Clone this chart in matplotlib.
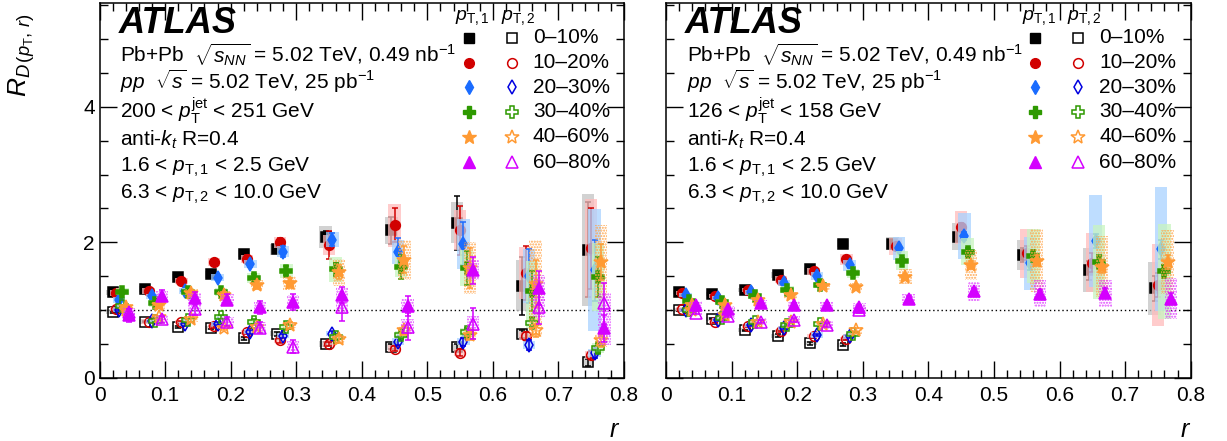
import numpy as np
import matplotlib
matplotlib.use("Agg")
import matplotlib.pyplot as plt

plt.rcParams['font.family'] = ['Liberation Sans', 'DejaVu Sans']
plt.rcParams['mathtext.fontset'] = 'custom'
plt.rcParams['mathtext.rm'] = 'Liberation Sans'
plt.rcParams['mathtext.it'] = 'Liberation Sans:italic'
plt.rcParams['mathtext.bf'] = 'Liberation Sans:bold'
plt.rcParams['mathtext.sf'] = 'Liberation Sans'
plt.rcParams['hatch.linewidth'] = 1.0

# ---------------- data ----------------
r_centers = [0.025, 0.075, 0.125, 0.175, 0.225, 0.275, 0.35, 0.45, 0.55, 0.65, 0.75]
centralities = ['0\u201310%', '10\u201320%', '20\u201330%', '30\u201340%', '40\u201360%', '60\u201380%']

# Left panel: 200 < pT jet < 251 GeV
left_pt1 = [
    [1.26, 1.31, 1.49, 1.53, 1.83, 1.90, 2.08, 2.18, 2.29, 1.36, 1.89],
    [1.25, 1.28, 1.43, 1.71, 1.76, 2.00, 1.96, 2.25, 2.18, 1.55, 1.91],
    [1.15, 1.20, 1.28, 1.48, 1.68, 1.86, 2.04, 1.86, 1.98, 1.50, 1.59],
    [1.27, 1.10, 1.27, 1.26, 1.47, 1.58, 1.60, 1.64, 1.62, 1.28, 1.49],
    [1.04, 1.07, 1.25, 1.22, 1.37, 1.40, 1.56, 1.74, 1.62, 1.39, 1.71],
    [0.92, 1.21, 1.18, 1.15, 1.04, 1.12, 1.22, 1.06, 1.59, 1.32, 0.73],
]
left_pt1_stat = [
    [0.02, 0.02, 0.02, 0.03, 0.04, 0.06, 0.08, 0.20, 0.40, 0.43, 0.70],
    [0.02, 0.02, 0.03, 0.04, 0.05, 0.07, 0.20, 0.25, 0.36, 0.40, 0.60],
    [0.02, 0.02, 0.03, 0.03, 0.05, 0.08, 0.10, 0.20, 0.32, 0.40, 0.45],
    [0.03, 0.03, 0.03, 0.04, 0.06, 0.07, 0.10, 0.18, 0.25, 0.30, 0.30],
    [0.03, 0.03, 0.04, 0.05, 0.06, 0.08, 0.10, 0.20, 0.30, 0.35, 0.27],
    [0.10, 0.08, 0.08, 0.08, 0.10, 0.12, 0.12, 0.15, 0.20, 0.25, 0.20],
]
left_pt1_sys = [
    [0.04, 0.04, 0.04, 0.05, 0.05, 0.08, 0.16, 0.20, 0.30, 0.38, 0.83],
    [0.04, 0.04, 0.05, 0.06, 0.06, 0.08, 0.15, 0.32, 0.30, 0.38, 0.73],
    [0.04, 0.04, 0.05, 0.05, 0.06, 0.08, 0.11, 0.18, 0.37, 0.40, 0.90],
    [0.05, 0.05, 0.05, 0.06, 0.07, 0.10, 0.18, 0.15, 0.27, 0.44, 0.50],
    [0.05, 0.05, 0.06, 0.06, 0.08, 0.10, 0.20, 0.30, 0.38, 0.64, 0.55],
    [0.07, 0.07, 0.07, 0.08, 0.08, 0.10, 0.12, 0.10, 0.15, 0.20, 0.25],
]
left_pt2 = [
    [0.97, 0.83, 0.75, 0.74, 0.58, 0.65, 0.50, 0.46, 0.45, 0.65, 0.23],
    [1.01, 0.83, 0.82, 0.76, 0.67, 0.55, 0.50, 0.43, 0.37, 0.61, 0.34],
    [1.00, 0.84, 0.79, 0.80, 0.68, 0.62, 0.65, 0.53, 0.53, 0.48, 0.36],
    [1.06, 0.84, 0.85, 0.89, 0.83, 0.75, 0.60, 0.63, 0.67, 0.81, 0.44],
    [1.00, 0.89, 0.86, 0.74, 0.75, 0.78, 0.57, 0.70, 0.63, 0.70, 0.55],
    [0.97, 0.86, 1.01, 0.83, 0.74, 0.46, 1.04, 0.75, 0.80, 1.04, 1.10],
]
left_pt2_stat = [
    [0.01, 0.01, 0.02, 0.02, 0.02, 0.03, 0.03, 0.04, 0.05, 0.06, 0.05],
    [0.01, 0.01, 0.02, 0.02, 0.02, 0.03, 0.03, 0.04, 0.05, 0.06, 0.06],
    [0.01, 0.02, 0.02, 0.02, 0.03, 0.03, 0.04, 0.05, 0.06, 0.07, 0.07],
    [0.02, 0.02, 0.02, 0.03, 0.03, 0.04, 0.05, 0.06, 0.07, 0.08, 0.08],
    [0.02, 0.02, 0.03, 0.03, 0.04, 0.05, 0.06, 0.07, 0.08, 0.10, 0.10],
    [0.05, 0.05, 0.08, 0.07, 0.08, 0.10, 0.20, 0.20, 0.23, 0.25, 0.30],
]
left_pt2_sys = [
    [0.03, 0.03, 0.03, 0.03, 0.04, 0.04, 0.04, 0.05, 0.05, 0.06, 0.06],
    [0.03, 0.03, 0.03, 0.03, 0.04, 0.04, 0.04, 0.05, 0.05, 0.06, 0.06],
    [0.03, 0.03, 0.03, 0.03, 0.04, 0.04, 0.04, 0.05, 0.05, 0.06, 0.06],
    [0.03, 0.03, 0.03, 0.04, 0.04, 0.05, 0.05, 0.06, 0.07, 0.08, 0.08],
    [0.04, 0.04, 0.04, 0.04, 0.05, 0.05, 0.06, 0.07, 0.08, 0.10, 0.10],
    [0.06, 0.06, 0.07, 0.07, 0.08, 0.08, 0.10, 0.11, 0.11, 0.15, 0.15],
]

# Right panel: 126 < pT jet < 158 GeV
right_pt1 = [
    [1.26, 1.24, 1.30, 1.52, 1.60, 1.98, 1.98, 2.08, 1.81, 1.59, 1.32],
    [1.25, 1.21, 1.30, 1.45, 1.57, 1.75, 1.94, 2.22, 1.84, 1.70, 1.37],
    [1.22, 1.18, 1.26, 1.40, 1.50, 1.66, 1.91, 2.09, 1.69, 2.02, 1.90],
    [1.13, 1.12, 1.20, 1.30, 1.37, 1.54, 1.73, 1.86, 1.80, 1.71, 1.57],
    [1.08, 1.07, 1.15, 1.22, 1.35, 1.34, 1.49, 1.66, 1.73, 1.64, 1.71],
    [1.08, 1.01, 1.10, 1.08, 1.07, 1.05, 1.17, 1.28, 1.24, 1.25, 1.17],
]
right_pt1_stat = [
    [0.01, 0.01, 0.01, 0.02, 0.02, 0.03, 0.04, 0.06, 0.10, 0.14, 0.18],
    [0.01, 0.01, 0.01, 0.02, 0.02, 0.03, 0.04, 0.06, 0.10, 0.14, 0.18],
    [0.01, 0.01, 0.02, 0.02, 0.02, 0.03, 0.04, 0.06, 0.10, 0.10, 0.14],
    [0.01, 0.01, 0.02, 0.02, 0.02, 0.03, 0.04, 0.06, 0.08, 0.10, 0.10],
    [0.01, 0.01, 0.02, 0.02, 0.03, 0.03, 0.04, 0.06, 0.08, 0.10, 0.10],
    [0.02, 0.02, 0.02, 0.02, 0.03, 0.03, 0.04, 0.05, 0.06, 0.07, 0.08],
]
right_pt1_sys = [
    [0.03, 0.03, 0.03, 0.04, 0.04, 0.05, 0.10, 0.20, 0.22, 0.33, 0.39],
    [0.03, 0.03, 0.03, 0.05, 0.05, 0.08, 0.13, 0.25, 0.36, 0.44, 0.60],
    [0.03, 0.03, 0.04, 0.05, 0.06, 0.08, 0.17, 0.34, 0.39, 0.68, 0.92],
    [0.04, 0.04, 0.04, 0.05, 0.05, 0.07, 0.14, 0.20, 0.40, 0.54, 0.70],
    [0.04, 0.04, 0.04, 0.05, 0.05, 0.06, 0.11, 0.22, 0.47, 0.45, 0.47],
    [0.05, 0.05, 0.05, 0.05, 0.05, 0.06, 0.07, 0.14, 0.20, 0.20, 0.30],
]
right_pt2 = [
    [1.00, 0.87, 0.70, 0.62, 0.51, 0.49],
    [1.01, 0.82, 0.76, 0.69, 0.61, 0.57],
    [1.00, 0.85, 0.78, 0.74, 0.63, 0.61],
    [1.00, 0.88, 0.83, 0.78, 0.79, 0.65],
    [1.00, 0.93, 0.83, 0.83, 0.80, 0.70],
    [0.96, 0.91, 0.83, 0.85, 0.78, 1.00],
]
right_pt2_stat = [
    [0.01, 0.01, 0.01, 0.02, 0.02, 0.02],
    [0.01, 0.01, 0.01, 0.02, 0.02, 0.02],
    [0.01, 0.01, 0.02, 0.02, 0.02, 0.03],
    [0.01, 0.01, 0.02, 0.02, 0.02, 0.03],
    [0.01, 0.02, 0.02, 0.02, 0.03, 0.03],
    [0.02, 0.02, 0.02, 0.03, 0.03, 0.04],
]
right_pt2_sys = [
    [0.03, 0.03, 0.03, 0.03, 0.03, 0.03],
    [0.03, 0.03, 0.03, 0.03, 0.03, 0.03],
    [0.03, 0.03, 0.03, 0.03, 0.04, 0.04],
    [0.03, 0.03, 0.04, 0.04, 0.04, 0.04],
    [0.04, 0.04, 0.04, 0.04, 0.05, 0.05],
    [0.05, 0.05, 0.05, 0.06, 0.06, 0.06],
]

# ---------------- styles ----------------
colors = ['#000000', '#d10000', '#1a6cff', '#2e9900', '#ff9a33', '#d400ff']
open_colors = ['#000000', '#d10000', '#0000e0', '#2e9900', '#ff9a33', '#d400ff']
box_colors = ['#c4c4c4', '#ffbcbc', '#a8d2ff', '#c8f5c0', None, None]
hatch_colors = [None, None, None, None, '#ffa64d', '#e040ff']
markers = ['s', 'o', 'd', 'P', '*', '^']
msizes = [7, 7, 7.5, 9, 10, 8.5]
offsets = [-0.005, 0.0, 0.005, 0.010, 0.015, 0.020]
box_w = 0.019


def draw_series(ax, xs, ys, stat, sys, i, filled):
    xs = np.asarray(xs)
    ys = np.asarray(ys)
    sys = np.asarray(sys)
    zb = 2 + 3 * i
    if box_colors[i] is not None:
        ax.bar(xs, 2 * sys, bottom=ys - sys, width=box_w, color=box_colors[i],
               alpha=0.75, linewidth=0, zorder=zb)
    else:
        ax.bar(xs, 2 * sys, bottom=ys - sys, width=box_w, facecolor='none',
               edgecolor=hatch_colors[i], hatch='......', linewidth=0, zorder=zb)
    c = colors[i] if filled else open_colors[i]
    ax.errorbar(xs, ys, yerr=stat, fmt=markers[i], ms=msizes[i], color=c,
                mfc=c if filled else 'none', mec=c, mew=1.1, elinewidth=1.1,
                capsize=2.5, capthick=1.1, zorder=zb + 1)


fig = plt.figure(figsize=(12.27, 4.41), dpi=100)
axL = fig.add_axes([0.0811, 0.1435, 0.4275, 0.8504])
axR = fig.add_axes([0.5428, 0.1435, 0.4276, 0.8504])

for ax, pt1, st1, sy1, pt2, st2, sy2 in [
    (axL, left_pt1, left_pt1_stat, left_pt1_sys, left_pt2, left_pt2_stat, left_pt2_sys),
    (axR, right_pt1, right_pt1_stat, right_pt1_sys, right_pt2, right_pt2_stat, right_pt2_sys),
]:
    for i in range(6):
        n2 = len(pt2[i])
        x1 = [c + offsets[i] for c in r_centers]
        x2 = [c + offsets[i] for c in r_centers[:n2]]
        draw_series(ax, x2, pt2[i], st2[i], sy2[i], i, False)
        draw_series(ax, x1, pt1[i], st1[i], sy1[i], i, True)
    ax.axhline(1.0, color='black', linestyle=(0, (1, 2)), linewidth=1.0, zorder=1)
    ax.set_xlim(0, 0.8)
    ax.set_ylim(0, 5.54)
    ax.set_xticks(np.arange(0, 0.81, 0.1))
    ax.set_xticks(np.arange(0, 0.801, 0.02), minor=True)
    ax.set_yticks([0, 2, 4])
    ax.set_yticks(np.arange(0, 5.51, 0.5), minor=True)
    ax.tick_params(which='both', direction='in', top=True, right=True, width=1.0,
                   labelsize=15)
    ax.tick_params(which='major', length=12)
    ax.tick_params(which='minor', length=6)
    ax.set_xticklabels(['0', '0.1', '0.2', '0.3', '0.4', '0.5', '0.6', '0.7', '0.8'])
    for lab in ax.get_xticklabels() + ax.get_yticklabels():
        lab.set_family(['Liberation Sans Narrow', 'Liberation Sans'])
    for sp in ax.spines.values():
        sp.set_linewidth(1.1)

axL.set_yticklabels(['0', '2', '4'])
axR.set_yticklabels([])
axL.tick_params(axis='x', pad=6)
axR.tick_params(axis='x', pad=6)

jet_labels = [r'200 < $p_{\mathrm{T}}^{\mathrm{jet}}$ < 251 GeV',
              r'126 < $p_{\mathrm{T}}^{\mathrm{jet}}$ < 158 GeV']
lines_common = [
    r'Pb+Pb  $\sqrt{s_{NN}}$ = 5.02 TeV, 0.49 nb$^{-1}$',
    r'$pp$  $\sqrt{s}$ = 5.02 TeV, 25 pb$^{-1}$',
]
lines_tail = [
    r'anti-$k_{t}$ R=0.4',
    r'1.6 < $p_{\mathrm{T},1}$ < 2.5 GeV',
    r'6.3 < $p_{\mathrm{T},2}$ < 10.0 GeV',
]
line_y = [0.840, 0.769, 0.692, 0.618, 0.550, 0.478]
for ax, jl in [(axL, jet_labels[0]), (axR, jet_labels[1])]:
    ax.text(0.036, 0.918, 'ATLAS', transform=ax.transAxes, fontsize=26,
            fontweight='bold', fontstyle='italic', ha='left', va='baseline')
    txts = lines_common + [jl] + lines_tail
    for t, yy in zip(txts, line_y):
        ax.text(0.04, yy, t, transform=ax.transAxes, fontsize=15,
                ha='left', va='baseline')
    # legend
    ax.text(0.678, 0.955, r'$p_{\mathrm{T},1}$', transform=ax.transAxes,
            fontsize=14, ha='left', va='baseline')
    ax.text(0.765, 0.955, r'$p_{\mathrm{T},2}$', transform=ax.transAxes,
            fontsize=14, ha='left', va='baseline')
    rows = [0.906, 0.840, 0.775, 0.709, 0.642, 0.575]
    for i in range(6):
        ax.plot([0.704], [rows[i]], marker=markers[i], ms=msizes[i], color=colors[i],
                mec=colors[i], transform=ax.transAxes, clip_on=False, zorder=30)
        ax.plot([0.786], [rows[i]], marker=markers[i], ms=msizes[i], color=open_colors[i],
                mfc='none', mec=open_colors[i], mew=1.1, transform=ax.transAxes,
                clip_on=False, zorder=30)
        ax.text(0.826, rows[i], centralities[i], transform=ax.transAxes,
                fontsize=15, ha='left', va='center')

fig.text(0.018, 0.875, r'$R_{D\,(p_{\mathrm{T}},\,r)}$', rotation=90, fontsize=19,
         ha='center', va='center')
fig.text(0.501, 0.025, r'$r$', fontsize=18, ha='center', va='center')
fig.text(0.966, 0.025, r'$r$', fontsize=18, ha='center', va='center')

fig.savefig('out.png', dpi=100)
